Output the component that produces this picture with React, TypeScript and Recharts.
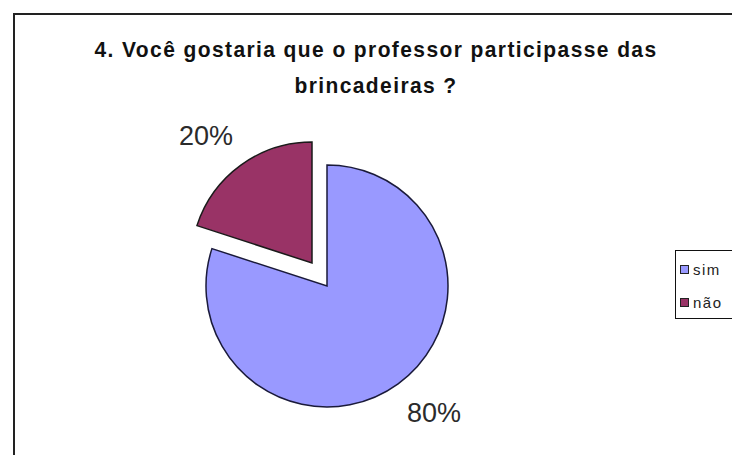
import React from 'react';
import { PieChart, Pie, Cell } from 'recharts';

const categories = ['sim', 'não'];
const values = [80, 20];
const colors = ['#9999FF', '#993366'];
const titleLines = ['4. Você gostaria que o professor participasse das', 'brincadeiras ?'];

const data = categories.map((name, i) => ({ name, value: values[i] }));

const RAD = Math.PI / 180;
const LABEL_GAP = 44;
const labelNudge: Record<string, [number, number]> = { sim: [10, -6], 'não': [-9, 6] };

const makeLabel = (visibleIndex: number) => (props: any) => {
  const { cx, cy, midAngle, outerRadius, percent, index, name } = props;
  if (index !== visibleIndex) return null;
  const r = outerRadius + LABEL_GAP;
  const [nx, ny] = labelNudge[name] ?? [0, 0];
  const x = cx + Math.cos(-midAngle * RAD) * r + nx;
  const y = cy + Math.sin(-midAngle * RAD) * r + ny;
  return (
    <text
      x={x}
      y={y}
      textAnchor="middle"
      dominantBaseline="central"
      fill="#2b2b2b"
      fontFamily="Liberation Sans, Arial, sans-serif"
      fontSize={27}
    >
      {`${Math.round(percent * 100)}%`}
    </text>
  );
};

const LegendBox = () => (
  <div
    style={{
      position: 'absolute',
      left: 675,
      top: 250,
      width: 70,
      height: 67,
      border: '1.5px solid #111',
      background: '#fff',
      fontFamily: 'Liberation Sans, Arial, sans-serif',
      fontSize: 15,
      letterSpacing: 1.5,
      color: '#222',
    }}
  >
    {categories.map((c, i) => (
      <div key={c} style={{ position: 'absolute', left: 4, top: 10 + i * 33, display: 'flex', alignItems: 'center' }}>
        <span
          style={{
            display: 'inline-block',
            width: 7,
            height: 7,
            background: colors[i],
            border: '1px solid #222',
            marginRight: 4,
          }}
        />
        <span>{c}</span>
      </div>
    ))}
  </div>
);

export default function App() {
  return (
    <div style={{ position: 'absolute', left: 0, top: 0, width: 732, height: 455, background: '#fff', overflow: 'hidden' }}>
      <div
        style={{
          position: 'absolute',
          left: 13,
          top: 13,
          width: 760,
          height: 480,
          border: '2px solid #222',
          boxSizing: 'border-box',
        }}
      />
      <div
        style={{
          position: 'absolute',
          left: 0,
          top: 31,
          width: 752,
          textAlign: 'center',
          fontFamily: 'Liberation Sans, Arial, sans-serif',
          fontWeight: 'bold',
          fontSize: 21,
          letterSpacing: 1.4,
          lineHeight: '33px',
          color: '#111',
          transform: 'scaleY(1.08)',
          transformOrigin: 'top',
        }}
      >
        <div>{titleLines[0]}</div>
        <div>{titleLines[1]}</div>
      </div>
      <div style={{ position: 'absolute', left: 0, top: 0 }}>
        <PieChart width={732} height={455} margin={{ top: 0, right: 0, bottom: 0, left: 0 }}>
          <Pie
            data={data}
            dataKey="value"
            nameKey="name"
            cx={327}
            cy={286}
            outerRadius={121}
            startAngle={90}
            endAngle={-270}
            isAnimationActive={false}
            label={makeLabel(0)}
            labelLine={false}
          >
            {data.map((d, i) => (
              <Cell
                key={d.name}
                fill={i === 0 ? colors[0] : 'none'}
                stroke={i === 0 ? '#1a1a3a' : 'none'}
                strokeWidth={1.5}
              />
            ))}
          </Pie>
          <Pie
            data={data}
            dataKey="value"
            nameKey="name"
            cx={312}
            cy={263}
            outerRadius={121}
            startAngle={90}
            endAngle={-270}
            isAnimationActive={false}
            label={makeLabel(1)}
            labelLine={false}
          >
            {data.map((d, i) => (
              <Cell
                key={d.name}
                fill={i === 1 ? colors[1] : 'none'}
                stroke={i === 1 ? '#1a1a1a' : 'none'}
                strokeWidth={1.5}
              />
            ))}
          </Pie>
        </PieChart>
      </div>
      <LegendBox />
    </div>
  );
}
